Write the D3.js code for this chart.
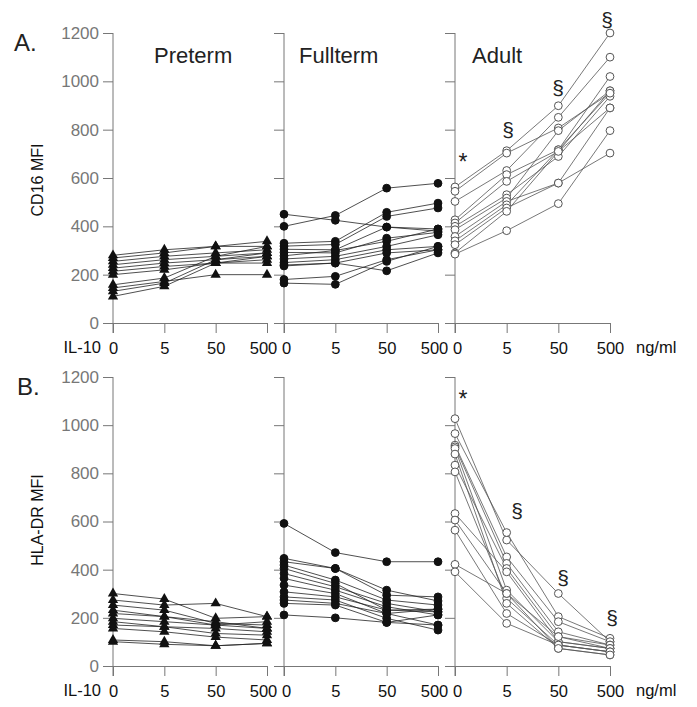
<!DOCTYPE html>
<html>
<head>
<meta charset="utf-8">
<script src="https://d3js.org/d3.v7.min.js"></script>
<style>
  body { margin: 0; background: #fff; }
  svg { font-family: "Liberation Sans", Arial, sans-serif; }
</style>
</head>
<body>
<div id="chart"></div>
<script>
// IL-10 doses (ng/ml) and groups
var doses = ["0", "5", "50", "500"];
var groups = ["Preterm", "Fullterm", "Adult"];
var yTicks = [0, 200, 400, 600, 800, 1000, 1200];

// A. CD16 MFI, one array per subject
var cd16Preterm = [
  [280, 303, 317, 338], [269, 290, 317, 317], [255, 276, 290, 303],
  [241, 262, 276, 290], [227, 248, 262, 276], [214, 234, 248, 248],
  [200, 220, 248, 262], [158, 186, 276, 317], [145, 172, 200, 200],
  [131, 165, 262, 290], [110, 152, 248, 276]
];
var cd16Fullterm = [
  [400, 445, 558, 578], [450, 425, 397, 380], [330, 338, 458, 496],
  [318, 325, 441, 476], [305, 303, 397, 389], [292, 290, 351, 375],
  [278, 300, 338, 389], [265, 276, 317, 365], [250, 262, 303, 317],
  [236, 248, 290, 303], [180, 193, 262, 303], [165, 160, 255, 317],
  [240, 248, 216, 290]
];
var cd16Adult = [
  [563, 713, 899, 1200], [545, 703, 807, 951], [503, 631, 851, 1100],
  [427, 614, 717, 1020], [414, 586, 710, 961], [400, 531, 689, 938],
  [386, 517, 796, 961], [358, 503, 579, 890], [340, 489, 717, 951],
  [324, 476, 579, 703], [290, 462, 710, 890], [285, 382, 494, 796]
];

// B. HLA-DR MFI
var hlaPreterm = [
  [301, 278, 198, 205], [274, 253, 260, 205], [253, 232, 177, 170],
  [232, 205, 184, 156], [218, 205, 170, 184], [198, 184, 170, 156],
  [184, 163, 156, 142], [170, 163, 135, 128], [156, 142, 120, 108],
  [108, 101, 84, 94], [101, 90, 84, 94]
];
var hlaFullterm = [
  [592, 471, 433, 433], [447, 405, 294, 287], [433, 405, 315, 270],
  [419, 357, 274, 253], [405, 343, 232, 236], [384, 329, 260, 225],
  [364, 315, 246, 212], [336, 301, 218, 170], [308, 287, 232, 225],
  [287, 274, 198, 149], [274, 260, 218, 236], [260, 253, 181, 212],
  [212, 200, 181, 170]
];
var hlaAdult = [
  [1027, 523, 301, 101], [965, 554, 205, 115], [917, 453, 184, 101],
  [910, 426, 142, 87], [903, 315, 101, 73], [834, 405, 122, 87],
  [806, 281, 87, 59], [633, 391, 101, 73], [606, 301, 122, 73],
  [564, 218, 87, 59], [422, 301, 73, 46], [391, 177, 87, 59],
  [880, 260, 73, 46]
];

var rows = [
  {letter: "A.", ylabel: "CD16 MFI", data: [cd16Preterm, cd16Fullterm, cd16Adult],
   top: 33, bottom: 323, stars: ["*", "§", "§", "§"],
   marks: [[463, 170], [508, 137], [558, 95], [607, 27]]},
  {letter: "B.", ylabel: "HLA-DR MFI", data: [hlaPreterm, hlaFullterm, hlaAdult],
   top: 377, bottom: 666, stars: ["*", "§", "§", "§"],
   marks: [[463, 407], [517, 518], [563, 585], [612, 625]]}
];

var panelX = [[113, 267], [284, 438], [455, 610]];

var svg = d3.select("#chart").append("svg")
  .attr("width", 697)
  .attr("height", 707);

rows.forEach(function(row, r) {
  var y = d3.scaleLinear().domain([0, 1200]).range([row.bottom, row.top]);

  svg.append("text")
    .attr("x", r == 0 ? 14 : 17)
    .attr("y", row.top + 18)
    .attr("font-size", 24)
    .attr("fill", "#222")
    .text(row.letter);

  svg.append("text")
    .attr("transform", "translate(43," + (r == 0 ? 180 : 520) + ") rotate(-90)")
    .attr("text-anchor", "middle")
    .attr("font-size", 16)
    .attr("fill", "#111")
    .text(row.ylabel);

  groups.forEach(function(g, i) {
    var x = d3.scalePoint().domain(doses).range(panelX[i]).padding(0);

    // y axis
    var yAxis = d3.axisLeft(y).tickValues(yTicks).tickSize(10).tickSizeOuter(0)
      .tickFormat(i == 0 ? d3.format("d") : "");
    var ya = svg.append("g")
      .attr("transform", "translate(" + panelX[i][0] + ",0)")
      .call(yAxis);
    ya.select(".domain").remove();
    ya.selectAll("line").attr("stroke", "#777");
    ya.selectAll("text").attr("font-size", 17).attr("fill", "#777")
      .attr("font-family", "Liberation Sans, Arial, sans-serif").attr("dx", -1);
    svg.append("line")
      .attr("x1", panelX[i][0]).attr("x2", panelX[i][0])
      .attr("y1", row.top).attr("y2", row.bottom + 10)
      .attr("stroke", "#777");

    // x axis
    var xa = svg.append("g")
      .attr("transform", "translate(0," + row.bottom + ")")
      .call(d3.axisBottom(x).tickSize(10).tickSizeOuter(0).tickPadding(9));
    xa.select(".domain").attr("stroke", "#777");
    xa.selectAll("line").attr("stroke", "#777");
    xa.selectAll("text").attr("font-size", 16.5).attr("fill", "#111")
      .attr("font-family", "Liberation Sans, Arial, sans-serif")
      .attr("dx", function(d) { return (d == "500" && i < 2) ? "-4" : (d == "0" && i > 0 ? "2" : "0"); });

    if (r == 0) {
      svg.append("text")
        .attr("x", i == 0 ? 154 : (i == 1 ? 299 : 472))
        .attr("y", 63)
        .attr("font-size", 22)
        .attr("fill", "#222")
        .text(g);
    }

    var line = d3.line()
      .x(function(d, k) { return x(doses[k]); })
      .y(function(d) { return y(d); });

    var subj = svg.append("g");
    subj.selectAll("path.subj")
      .data(row.data[i])
      .enter()
      .append("path")
      .attr("d", line)
      .attr("fill", "none")
      .attr("stroke", i == 2 ? "#555" : "#222")
      .attr("stroke-width", 0.8);

    var pts = [];
    row.data[i].forEach(function(s) {
      s.forEach(function(v, k) { pts.push({k: k, v: v}); });
    });

    if (i == 0) {
      subj.selectAll("path.tri")
        .data(pts).enter().append("path")
        .attr("d", d3.symbol(d3.symbolTriangle, 46))
        .attr("transform", function(d) { return "translate(" + x(doses[d.k]) + "," + y(d.v) + ")"; })
        .attr("fill", "#111");
    } else {
      subj.selectAll("circle")
        .data(pts).enter().append("circle")
        .attr("cx", function(d) { return x(doses[d.k]); })
        .attr("cy", function(d) { return y(d.v); })
        .attr("r", 3.9)
        .attr("fill", i == 1 ? "#111" : "#fff")
        .attr("stroke", i == 1 ? "#111" : "#555")
        .attr("stroke-width", 1);
    }
  });

  // IL-10 label and units
  svg.append("text")
    .attr("x", 101)
    .attr("y", row.bottom + 30)
    .attr("text-anchor", "end")
    .attr("font-size", 16.5)
    .attr("fill", "#111")
    .text("IL-10");
  svg.append("text")
    .attr("x", 636)
    .attr("y", row.bottom + 30)
    .attr("font-size", 16.5)
    .attr("fill", "#111")
    .text("ng/ml");

  // significance marks
  row.stars.forEach(function(s, k) {
    svg.append("text")
      .attr("x", row.marks[k][0])
      .attr("y", row.marks[k][1])
      .attr("text-anchor", "middle")
      .attr("font-size", s == "*" ? 23 : 21)
      .attr("fill", "#222")
      .text(s);
  });
});
</script>
</body>
</html>
